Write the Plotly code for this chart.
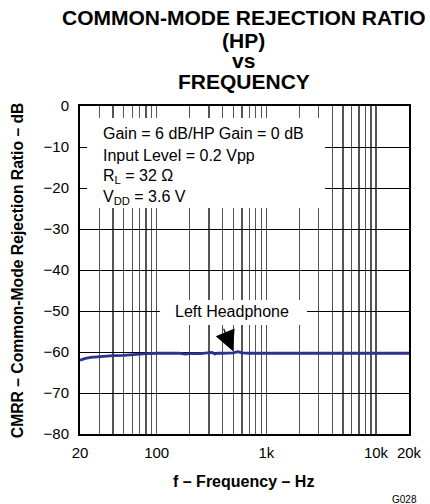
import math
import plotly.graph_objects as go

freq_hz = [20, 22, 25, 30, 35, 40, 50, 60, 70, 80, 100, 130, 160, 180, 200, 250, 300, 320, 340, 360,
           400, 450, 500, 550, 600, 700, 1000, 2000, 5000, 8000, 10000, 20000]
cmrr_db = [-62.0, -61.6, -61.3, -61.1, -61.0, -60.9, -60.8, -60.6, -60.5, -60.4, -60.3, -60.3, -60.3,
           -60.5, -60.4, -60.4, -60.3, -60.1, -60.5, -60.3, -60.3, -60.2, -60.2, -59.9, -60.2, -60.3,
           -60.3, -60.3, -60.3, -60.3, -60.4, -60.3]

x_tick_vals = [20, 100, 1000, 10000, 20000]
x_tick_text = ["20", "100", "1k", "10k", "20k"]
x_grid_vals = [30, 40, 50, 60, 70, 80, 90, 100, 200, 300, 400, 500, 600, 700, 800, 900, 1000,
               2000, 3000, 4000, 5000, 6000, 7000, 8000, 9000, 10000]
y_tick_vals = [0, -10, -20, -30, -40, -50, -60, -70, -80]
y_tick_text = ["0", "\u221210", "\u221220", "\u221230", "\u221240", "\u221250", "\u221260", "\u221270", "\u221280"]

title_lines = ["COMMON-MODE REJECTION RATIO", "(HP)", "vs", "FREQUENCY"]
conditions = ["Gain = 6 dB/HP Gain = 0 dB", "Input Level = 0.2 Vpp",
              "R<sub>L</sub> = 32 \u03a9", "V<sub>DD</sub> = 3.6 V"]
x_title = "f \u2013 Frequency \u2013 Hz"
y_title = "CMRR \u2013 Common-Mode Rejection Ratio \u2013 dB"
curve_label = "Left Headphone"

FONT = "Liberation Sans, Arial, sans-serif"

fig = go.Figure()
fig.add_trace(go.Scatter(x=freq_hz, y=cmrr_db, mode="lines",
                         line=dict(color="#2e3192", width=2.8), showlegend=False, hoverinfo="skip"))

fig.update_layout(
    width=430, height=504,
    margin=dict(l=80, r=21, t=106, b=70),
    paper_bgcolor="white", plot_bgcolor="white",
    font=dict(family=FONT, color="black", size=15),
    xaxis=dict(type="log", range=[math.log10(20), math.log10(20000)], tickmode="array",
               tickvals=x_tick_vals, ticktext=x_tick_text, showgrid=False, ticks="",
               showline=True, mirror=True, linecolor="black", linewidth=2, zeroline=False,
               tickfont=dict(size=15), ticklabelstandoff=4, automargin=False,
               minor=dict(tickmode="array", tickvals=x_grid_vals, showgrid=True,
                          gridcolor="#555555", gridwidth=1.3, ticks="")),
    yaxis=dict(range=[-80, 0], tickmode="array", tickvals=y_tick_vals, ticktext=y_tick_text,
               showgrid=True, gridcolor="black", gridwidth=1, ticks="", showline=True, mirror=True,
               linecolor="black", linewidth=2, zeroline=False, tickfont=dict(size=15),
               ticklabelstandoff=6, automargin=False),
)

# white boxes covering grid behind the labels
fig.add_shape(type="rect", xref="x", yref="y", x0=23.2, x1=3420, y0=-2.9, y1=-24.9,
              fillcolor="white", line=dict(width=0), layer="above")
fig.add_shape(type="rect", xref="x", yref="y", x0=107, x1=2346, y0=-47.3, y1=-53.4,
              fillcolor="white", line=dict(width=0), layer="above")

# title lines
title_y = [1.270, 1.201, 1.140, 1.075]
for t, yy in zip(title_lines, title_y):
    fig.add_annotation(x=0.497, xref="paper", y=yy, yref="paper", text=t, showarrow=False,
                       xanchor="center", yanchor="middle",
                       font=dict(size=21, family=FONT, weight="bold"))

cond_y = [-6.8, -12.1, -17.3, -22.2]
for t, yy in zip(conditions, cond_y):
    fig.add_annotation(x=0.0636, xref="paper", y=yy, yref="y", text=t,
                       showarrow=False, xanchor="left", yanchor="middle",
                       font=dict(size=16, family=FONT))

fig.add_annotation(x=math.log10(486), y=-50.2, xref="x", yref="y", text=curve_label,
                   showarrow=False, xanchor="center", yanchor="middle",
                   font=dict(size=16, family=FONT))
fig.add_annotation(x=math.log10(497), y=-59.8, xref="x", yref="y", text="", showarrow=True,
                   arrowhead=2, arrowsize=3.4, arrowwidth=1.2, arrowcolor="black", ax=-10, ay=-24)

fig.add_annotation(x=0.497, xref="paper", y=-0.146, yref="paper", text=x_title, showarrow=False,
                   xanchor="center", yanchor="middle", font=dict(size=16, family=FONT, weight="bold"))
fig.add_annotation(x=-0.191, xref="paper", y=0.5, yref="paper", text=y_title, showarrow=False,
                   textangle=-90, xanchor="center", yanchor="middle",
                   font=dict(size=15.7, family=FONT, weight="bold"))

fig.add_annotation(x=1.0303, xref="paper", y=-0.201, yref="paper", text="G028", showarrow=False,
                   xanchor="right", yanchor="middle", font=dict(size=10, family=FONT))

fig.write_html("out.html", config={"displayModeBar": False, "staticPlot": True},
               post_script="document.body.style.margin='0';document.body.style.overflow='hidden';")
